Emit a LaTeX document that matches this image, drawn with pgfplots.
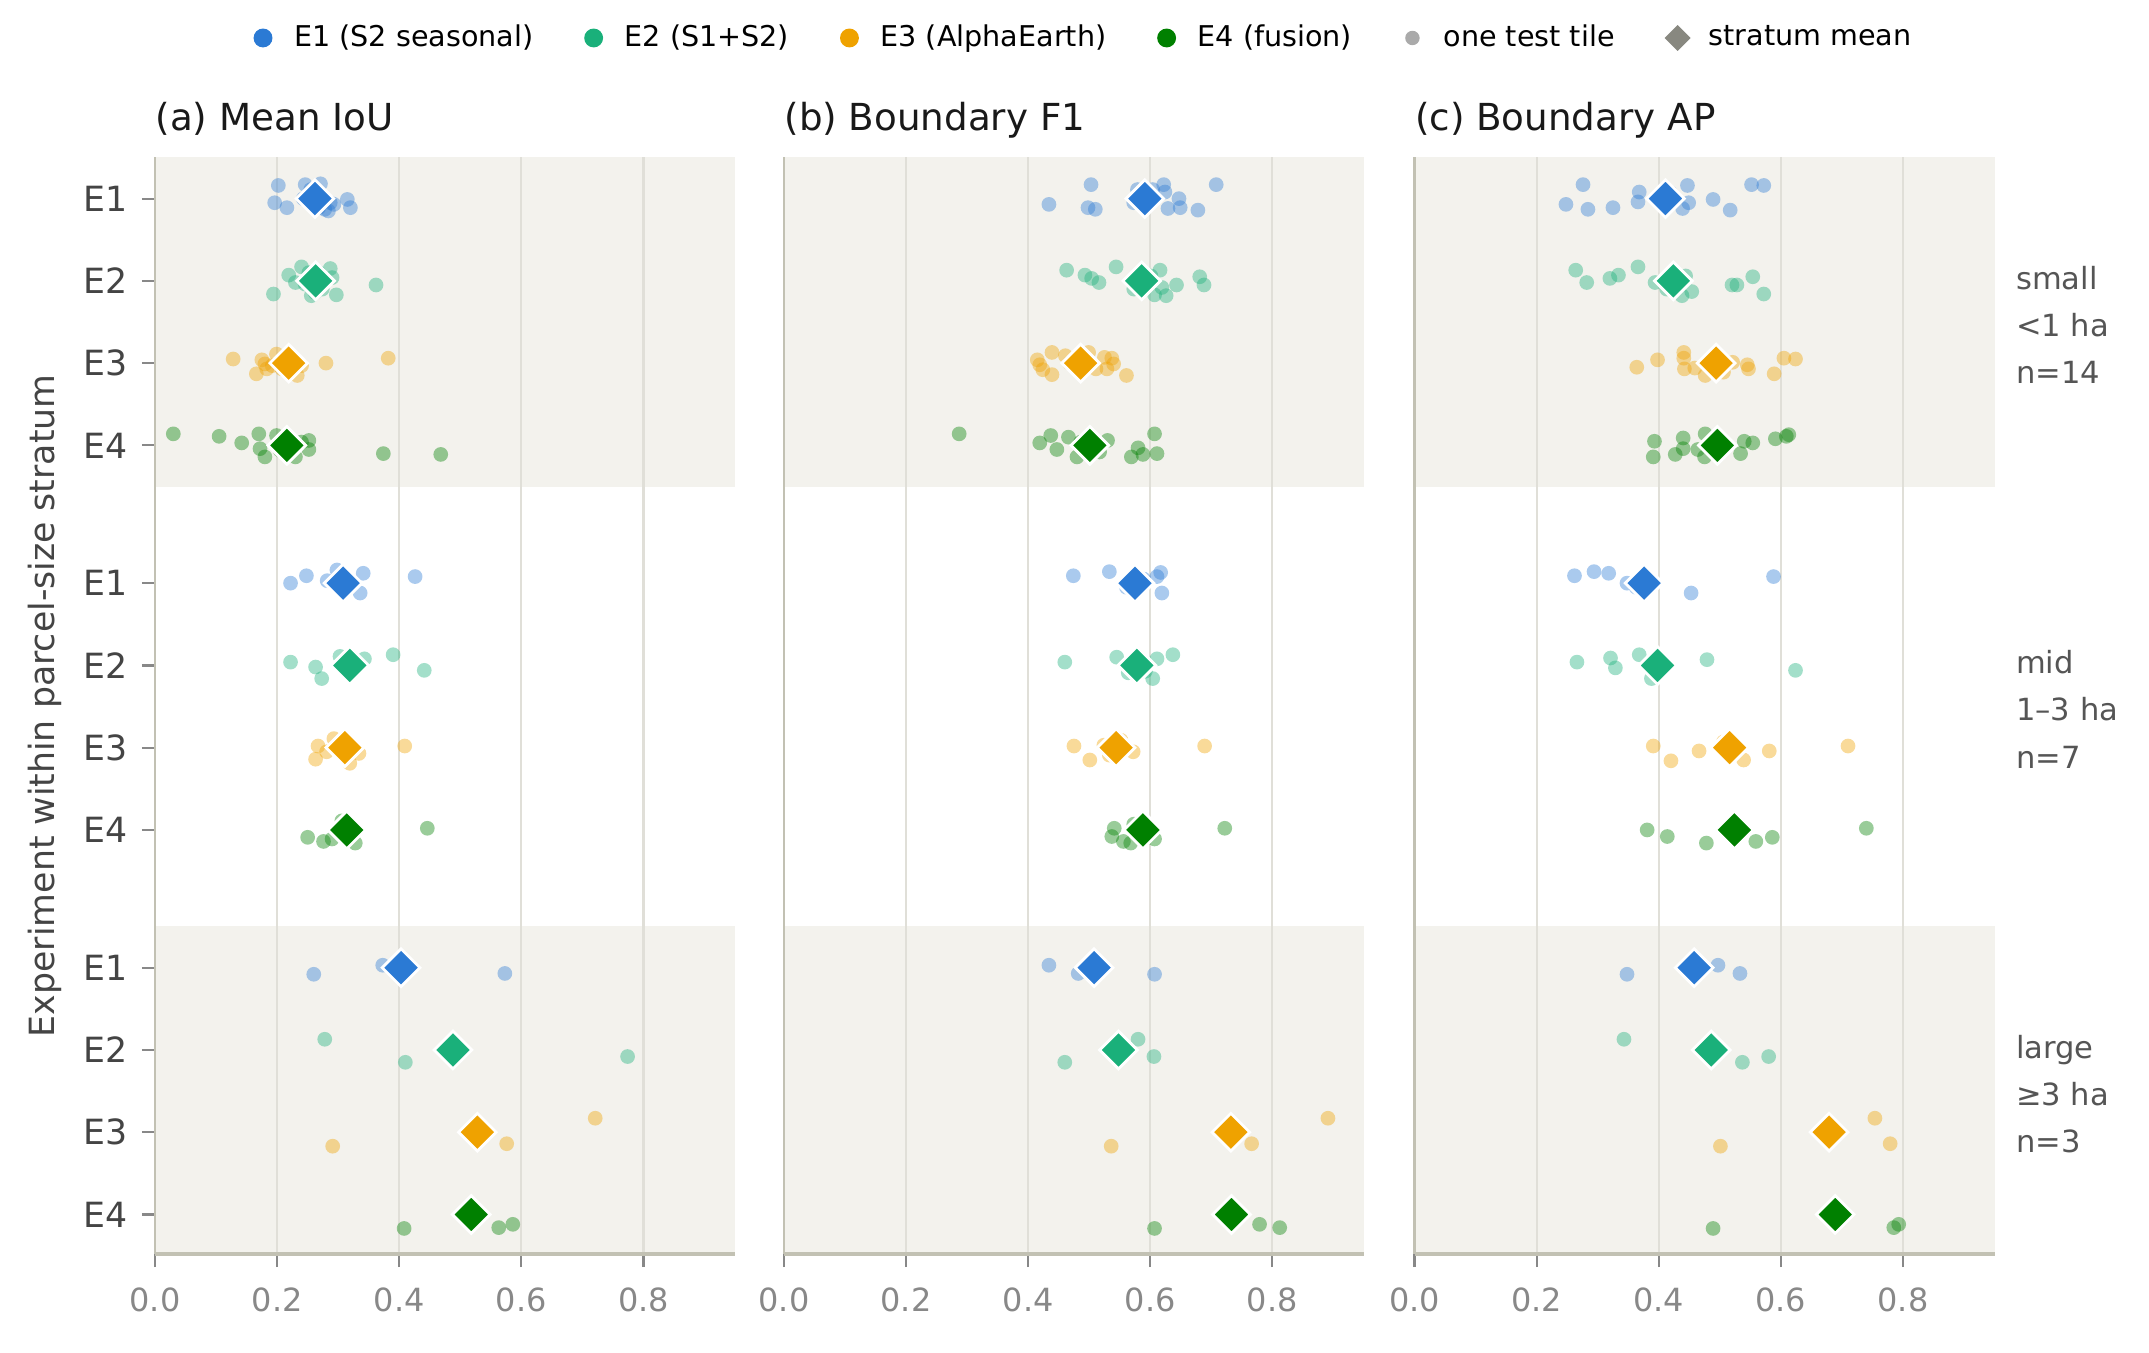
\documentclass[border=0pt]{standalone}
\usepackage{fontspec}
\setmainfont{DejaVu Sans}
\usepackage{pgfplots}
\usepackage{pgfplotstable}
\pgfplotsset{compat=1.18}
\definecolor{cE1}{HTML}{2B7AD4}
\definecolor{cE2}{HTML}{1AB07A}
\definecolor{cE3}{HTML}{EFA200}
\definecolor{cE4}{HTML}{008000}
\definecolor{band}{HTML}{F3F2ED}
\definecolor{gridc}{HTML}{E0DFD8}
\definecolor{spine}{HTML}{C2C1B3}
\definecolor{tickc}{HTML}{888888}
\definecolor{labc}{HTML}{444444}
\definecolor{rlab}{HTML}{555555}
\definecolor{tilec}{HTML}{AAAAAA}
\definecolor{meanc}{HTML}{888880}

% ---------------- data: v = value, s = stratum (0 small, 1 mid, 2 large), j = jitter
% panel (a) Mean IoU
\pgfplotstableread{
v s j
0.202 0 -0.16
0.246 0 -0.17
0.271 0 -0.18
0.196 0 0.05
0.216 0 0.11
0.293 0 0.07
0.284 0 0.15
0.315 0 0.01
0.320 0 0.11
0.255 0 -0.11
0.268 0 0.11
0.278 0 0.13
0.243 0 0.00
0.287 0 0.05
0.222 1 0.00
0.248 1 -0.09
0.298 1 -0.16
0.341 1 -0.12
0.336 1 0.12
0.426 1 -0.08
0.282 1 -0.03
0.260 2 0.08
0.373 2 -0.03
0.573 2 0.07
}\aEone
\pgfplotstableread{
v s j
0.240 0 -0.17
0.287 0 -0.15
0.219 0 -0.07
0.194 0 0.16
0.297 0 0.17
0.362 0 0.05
0.246 0 0.04
0.290 0 -0.04
0.262 0 0.14
0.274 0 0.10
0.252 0 -0.10
0.268 0 -0.10
0.256 0 0.18
0.230 0 0.02
0.222 1 -0.04
0.263 1 0.02
0.273 1 0.16
0.390 1 -0.13
0.441 1 0.06
0.303 1 -0.11
0.343 1 -0.08
0.278 2 -0.13
0.410 2 0.15
0.774 2 0.08
}\aEtwo
\pgfplotstableread{
v s j
0.128 0 -0.05
0.175 0 -0.04
0.166 0 0.13
0.183 0 0.07
0.280 0 0.00
0.382 0 -0.06
0.233 0 0.15
0.199 0 -0.11
0.208 0 0.07
0.240 0 0.03
0.227 0 -0.05
0.211 0 0.00
0.192 0 0.03
0.180 0 0.01
0.267 1 -0.02
0.263 1 0.14
0.409 1 -0.02
0.281 1 0.05
0.334 1 0.07
0.319 1 0.19
0.293 1 -0.11
0.291 2 0.17
0.576 2 0.14
0.721 2 -0.17
}\aEthree
\pgfplotstableread{
v s j
0.030 0 -0.14
0.105 0 -0.11
0.142 0 -0.03
0.170 0 -0.14
0.172 0 0.04
0.180 0 0.14
0.252 0 -0.06
0.252 0 0.05
0.230 0 0.14
0.374 0 0.10
0.468 0 0.11
0.199 0 -0.12
0.240 0 -0.04
0.205 0 0.06
0.250 1 0.09
0.276 1 0.14
0.446 1 -0.02
0.328 1 0.16
0.290 1 0.11
0.306 1 -0.11
0.325 1 0.01
0.408 2 0.17
0.563 2 0.16
0.586 2 0.12
}\aEfour
\pgfplotstableread{
s e1 e2 e3 e4
0 0.262 0.263 0.219 0.216
1 0.308 0.319 0.311 0.314
2 0.403 0.488 0.528 0.518
}\aMeans

% panel (b) Boundary F1
\pgfplotstableread{
v s j
0.503 0 -0.17
0.434 0 0.07
0.498 0 0.11
0.510 0 0.13
0.622 0 -0.17
0.624 0 -0.08
0.647 0 0.00
0.629 0 0.12
0.649 0 0.11
0.678 0 0.14
0.708 0 -0.17
0.573 0 0.05
0.604 0 -0.11
0.579 0 -0.11
0.474 1 -0.09
0.533 1 -0.14
0.617 1 -0.13
0.611 1 -0.08
0.619 1 0.12
0.561 1 0.05
0.589 1 -0.05
0.434 2 -0.03
0.482 2 0.07
0.607 2 0.08
}\bEone
\pgfplotstableread{
v s j
0.463 0 -0.13
0.493 0 -0.07
0.504 0 -0.03
0.516 0 0.02
0.544 0 -0.17
0.616 0 -0.13
0.619 0 0.08
0.607 0 0.17
0.626 0 0.18
0.643 0 0.05
0.681 0 -0.05
0.688 0 0.05
0.573 0 0.10
0.601 0 -0.06
0.460 1 -0.04
0.545 1 -0.10
0.611 1 -0.08
0.637 1 -0.13
0.604 1 0.16
0.564 1 0.09
0.592 1 0.07
0.460 2 0.15
0.580 2 -0.13
0.606 2 0.08
}\bEtwo
\pgfplotstableread{
v s j
0.439 0 -0.13
0.415 0 -0.04
0.419 0 0.02
0.424 0 0.08
0.439 0 0.14
0.525 0 -0.07
0.537 0 -0.06
0.540 0 0.01
0.529 0 0.07
0.561 0 0.15
0.468 0 0.00
0.511 0 0.07
0.461 0 -0.09
0.499 0 -0.13
0.475 1 -0.02
0.501 1 0.15
0.572 1 0.05
0.689 1 -0.02
0.524 1 -0.03
0.533 1 0.09
0.552 1 -0.09
0.536 2 0.17
0.766 2 0.14
0.891 2 -0.17
}\bEthree
\pgfplotstableread{
v s j
0.287 0 -0.14
0.419 0 -0.03
0.437 0 -0.12
0.447 0 0.05
0.466 0 -0.10
0.480 0 0.14
0.530 0 -0.06
0.569 0 0.14
0.580 0 0.03
0.588 0 0.11
0.607 0 -0.14
0.611 0 0.10
0.486 0 -0.04
0.517 0 0.08
0.541 1 -0.02
0.537 1 0.08
0.556 1 0.14
0.568 1 0.16
0.607 1 0.11
0.722 1 -0.02
0.573 1 -0.07
0.607 2 0.17
0.779 2 0.12
0.812 2 0.16
}\bEfour
\pgfplotstableread{
s e1 e2 e3 e4
0 0.591 0.586 0.486 0.501
1 0.575 0.578 0.544 0.588
2 0.508 0.548 0.732 0.733
}\bMeans

% panel (c) Boundary AP
\pgfplotstableread{
v s j
0.276 0 -0.17
0.248 0 0.07
0.284 0 0.13
0.325 0 0.11
0.368 0 -0.08
0.366 0 0.04
0.447 0 -0.16
0.449 0 0.05
0.439 0 0.12
0.489 0 0.01
0.517 0 0.14
0.552 0 -0.17
0.572 0 -0.16
0.419 0 -0.07
0.262 1 -0.09
0.294 1 -0.14
0.318 1 -0.12
0.348 1 0.00
0.453 1 0.12
0.588 1 -0.08
0.363 1 0.05
0.348 2 0.08
0.497 2 -0.03
0.533 2 0.07
}\cEone
\pgfplotstableread{
v s j
0.264 0 -0.13
0.282 0 0.02
0.320 0 -0.03
0.334 0 -0.07
0.366 0 -0.17
0.438 0 0.18
0.454 0 0.13
0.520 0 0.05
0.528 0 0.05
0.554 0 -0.05
0.572 0 0.16
0.413 0 0.10
0.444 0 -0.06
0.394 0 0.02
0.266 1 -0.04
0.321 1 -0.09
0.329 1 0.03
0.368 1 -0.13
0.388 1 0.16
0.479 1 -0.07
0.624 1 0.06
0.343 2 -0.13
0.537 2 0.15
0.580 2 0.08
}\cEtwo
\pgfplotstableread{
v s j
0.364 0 0.05
0.398 0 -0.04
0.441 0 -0.13
0.441 0 -0.06
0.442 0 0.07
0.459 0 0.06
0.476 0 0.15
0.521 0 -0.01
0.545 0 0.02
0.547 0 0.07
0.589 0 0.13
0.605 0 -0.06
0.624 0 -0.05
0.506 0 0.11
0.391 1 -0.02
0.420 1 0.16
0.466 1 0.04
0.539 1 0.15
0.581 1 0.04
0.710 1 -0.02
0.506 1 -0.07
0.501 2 0.17
0.754 2 -0.17
0.779 2 0.14
}\cEthree
\pgfplotstableread{
v s j
0.393 0 -0.05
0.391 0 0.14
0.427 0 0.11
0.440 0 -0.09
0.440 0 0.04
0.464 0 0.05
0.476 0 -0.14
0.475 0 0.14
0.534 0 0.10
0.540 0 -0.05
0.554 0 -0.03
0.591 0 -0.08
0.609 0 -0.11
0.613 0 -0.13
0.381 1 0.00
0.414 1 0.08
0.478 1 0.16
0.559 1 0.14
0.586 1 0.09
0.740 1 -0.02
0.524 1 -0.07
0.489 2 0.17
0.785 2 0.16
0.793 2 0.12
}\cEfour
\pgfplotstableread{
s e1 e2 e3 e4
0 0.411 0.424 0.494 0.496
1 0.376 0.398 0.516 0.524
2 0.458 0.486 0.679 0.689
}\cMeans

\pgfplotsset{
  panel/.style={
    set layers,
    scale only axis, width=208.8pt, height=394.7pt,
    xmin=0, xmax=0.95, ymin=-0.5, ymax=12.83, y dir=reverse,
    clip=false,
    axis x line*=bottom, axis y line*=left,
    x axis line style={-, draw=spine, line width=1.2pt},
    y axis line style={-, draw=spine, line width=0.8pt},
    xtick={0,0.2,0.4,0.6,0.8},
    xticklabel={\pgfmathprintnumber[fixed,fixed zerofill,precision=1]{\tick}},
    /pgf/number format/assume math mode=true,
    xmajorgrids, major grid style={draw=gridc, line width=0.8pt},
    ytick={0,1,2,3,4.675,5.675,6.675,7.675,9.35,10.35,11.35,12.35},
    yticklabels={E1,E2,E3,E4,E1,E2,E3,E4,E1,E2,E3,E4},
    tick align=outside, major tick length=4.7pt,
    tick style={draw=tickc, line width=0.8pt},
    xticklabel style={font=\fontsize{11.5}{13}\selectfont, text=tickc, yshift=-4pt},
    yticklabel style={font=\fontsize{12.5}{14}\selectfont, text=labc, xshift=-1.5pt},
    title style={at={(axis description cs:0,1)}, anchor=base west, yshift=3.6pt, inner sep=0pt, font=\fontsize{13.4}{15}\selectfont, text=black!90},
  },
  dots/.style={only marks, mark=*, mark size=2.65pt, mark options={draw opacity=0, fill=#1, fill opacity=0.4}, forget plot},
  means/.style={only marks, mark=square*, mark size=4.8pt, mark options={rotate=45, fill=#1, draw=white, line width=1pt}, forget plot},
  bands/.style={fill=band, draw=none, forget plot, on layer=axis background},
}

\newcommand{\panelbody}[5]{%
  \addplot[bands] coordinates {(0,-0.5) (0.95,-0.5) (0.95,3.5) (0,3.5)};
  \addplot[bands] coordinates {(0,8.84) (0.95,8.84) (0.95,12.83) (0,12.83)};
  \addplot[dots=cE1] table[x=v, y expr={0+4.675*\thisrow{s}+\thisrow{j}}] {#1};
  \addplot[dots=cE2] table[x=v, y expr={1+4.675*\thisrow{s}+\thisrow{j}}] {#2};
  \addplot[dots=cE3] table[x=v, y expr={2+4.675*\thisrow{s}+\thisrow{j}}] {#3};
  \addplot[dots=cE4] table[x=v, y expr={3+4.675*\thisrow{s}+\thisrow{j}}] {#4};
  \addplot[means=cE1] table[x=e1, y expr={0+4.675*\thisrow{s}}] {#5};
  \addplot[means=cE2] table[x=e2, y expr={1+4.675*\thisrow{s}}] {#5};
  \addplot[means=cE3] table[x=e3, y expr={2+4.675*\thisrow{s}}] {#5};
  \addplot[means=cE4] table[x=e4, y expr={3+4.675*\thisrow{s}}] {#5};
}

\begin{document}
\begin{tikzpicture}

% (a)
\begin{axis}[panel, at={(55.8pt,35.3pt)}, anchor=south west,
  title={(a) Mean IoU},
  ylabel={Experiment within parcel-size stratum},
  every axis y label/.style={at={(axis description cs:-0.189,0.5)}, rotate=90, anchor=center,
    font=\fontsize{12.5}{14}\selectfont, text=labc},
]
\panelbody{\aEone}{\aEtwo}{\aEthree}{\aEfour}{\aMeans}
\end{axis}

% (b)
\begin{axis}[panel, at={(282.2pt,35.3pt)}, anchor=south west,
  title={(b) Boundary F1},
  ytick=\empty,
  legend style={at={(0.519,1.109)}, anchor=center, draw=none, fill=none,
    legend columns=6, font=\fontsize{10.3}{12}\selectfont,
    /tikz/every even column/.append style={column sep=16pt}},
  legend image code/.code={\path[draw opacity=0, fill opacity=0] (-3.5pt,-3pt) rectangle (9pt,3pt); \draw[#1] plot coordinates {(0pt,0pt)};},
]
\panelbody{\bEone}{\bEtwo}{\bEthree}{\bEfour}{\bMeans}
\addlegendimage{only marks, mark=*, mark size=3.4pt, mark options={draw opacity=0, fill=cE1}}
\addlegendentry{E1 (S2 seasonal)}
\addlegendimage{only marks, mark=*, mark size=3.4pt, mark options={draw opacity=0, fill=cE2}}
\addlegendentry{E2 (S1+S2)}
\addlegendimage{only marks, mark=*, mark size=3.4pt, mark options={draw opacity=0, fill=cE3}}
\addlegendentry{E3 (AlphaEarth)}
\addlegendimage{only marks, mark=*, mark size=3.4pt, mark options={draw opacity=0, fill=cE4}}
\addlegendentry{E4 (fusion)}
\addlegendimage{only marks, mark=*, mark size=2.6pt, mark options={draw opacity=0, fill=tilec}}
\addlegendentry{one test tile}
\addlegendimage{only marks, mark=square*, mark size=3.3pt, mark options={rotate=45, draw opacity=0, fill=meanc}}
\addlegendentry{stratum mean}
\end{axis}

% (c)
\begin{axis}[panel, at={(509.2pt,35.3pt)}, anchor=south west,
  title={(c) Boundary AP},
  ytick=\empty,
]
\panelbody{\cEone}{\cEtwo}{\cEthree}{\cEfour}{\cMeans}
\node[anchor=west, align=left, inner sep=0pt, xshift=7.6pt, yshift=-1pt, font=\fontsize{11}{17}\selectfont, text=rlab] at (axis cs:0.95,1.5) {small\\<1 ha\\n=14};
\node[anchor=west, align=left, inner sep=0pt, xshift=7.6pt, yshift=-1pt, font=\fontsize{11}{17}\selectfont, text=rlab] at (axis cs:0.95,6.175) {mid\\1–3 ha\\n=7};
\node[anchor=west, align=left, inner sep=0pt, xshift=7.6pt, yshift=-1pt, font=\fontsize{11}{17}\selectfont, text=rlab] at (axis cs:0.95,10.85) {large\\≥3 ha\\n=3};
\end{axis}
\path (0,0) rectangle (773.6pt,486.7pt);
\end{tikzpicture}
\end{document}
